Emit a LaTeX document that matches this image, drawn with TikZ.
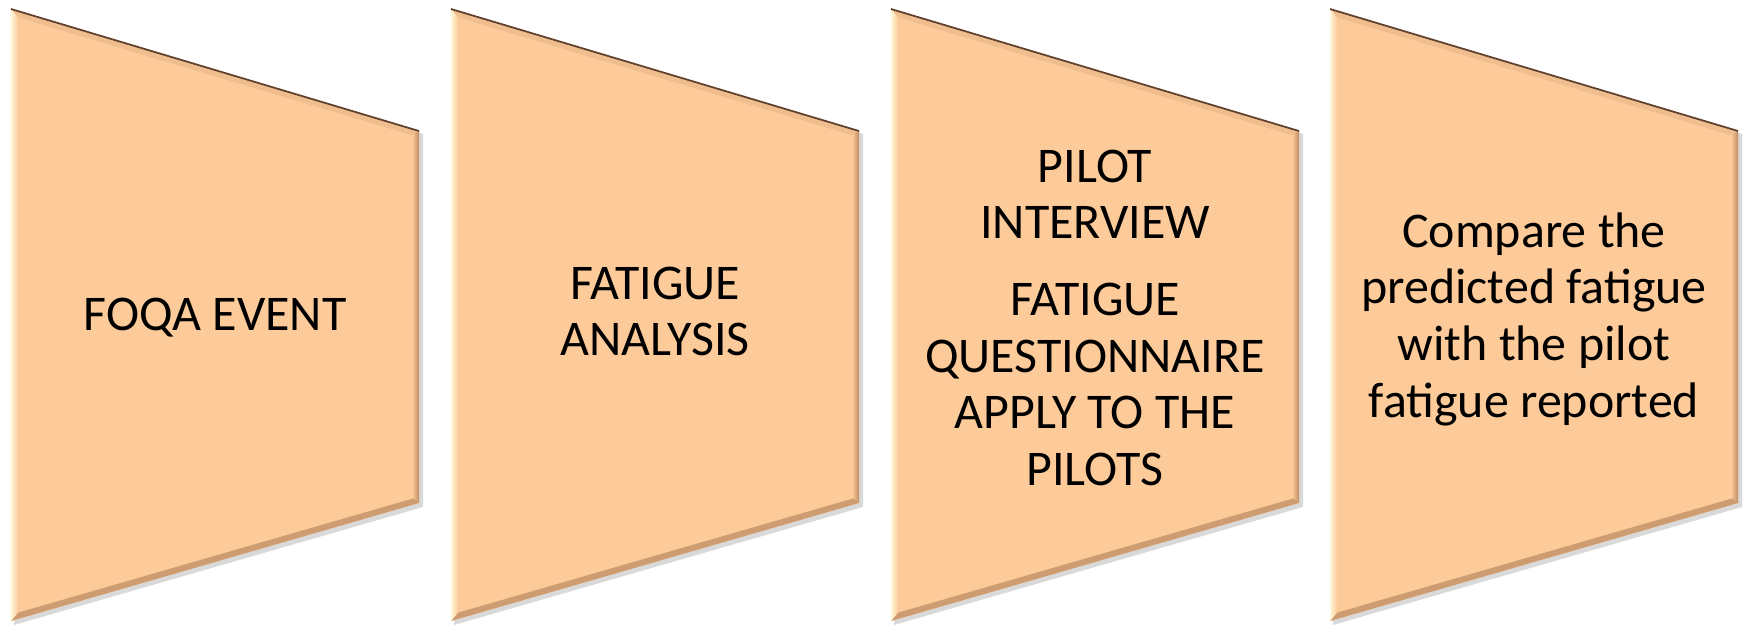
\documentclass[tikz,border=0pt]{standalone}
\usepackage{fontspec}
\setmainfont{Carlito}
\usepackage{tikz}
\usetikzlibrary{positioning}

\definecolor{peach}{RGB}{253,202,153}
\definecolor{peachlight}{RGB}{255,248,218}
\definecolor{peachdark}{RGB}{190,140,100}
\definecolor{peachedge}{RGB}{95,65,45}

\begin{document}
\begin{tikzpicture}[x=0.01cm, y=-0.01cm,
    steptext/.style={align=center, inner sep=0pt, font=\fontsize{14.2}{16.1}\selectfont}]
    \useasboundingbox (0,0) rectangle (1744,627);

    % the four trapezoids, with bevel
    \foreach \x in {11, 451, 891, 1330} {
        \fill[black, opacity=0.15] (\x+3,12) -- (\x+412,134) -- (\x+412,507) -- (\x+3,625) -- cycle;
        \fill[peach] (\x,9) -- (\x+408,131) -- (\x+408,503) -- (\x,621) -- cycle;
        \fill[peach!80!peachdark] (\x,9) -- (\x+408,131) -- (\x+402,135.5) -- (\x+7,17.4) -- cycle;
        \shade[left color=peach, right color=peachdark] (\x+408,131) -- (\x+408,503) -- (\x+401,498.5) -- (\x+401,135.5) -- cycle;
        \fill[peachdark!75!peach] (\x,621) -- (\x+408,503) -- (\x+402,498.5) -- (\x+7,612.7) -- cycle;
        \shade[left color=peachlight, right color=peach] (\x,9) -- (\x+7,17.4) -- (\x+7,612.7) -- (\x,621) -- cycle;
        \draw[peachedge, line width=0.5pt] (\x,9) -- (\x+408,131);
    }

    \node[steptext, anchor=base] (foqa) at (215,330) {FOQA EVENT};
    \node[steptext, anchor=north] (analysis) at (655,266) {FATIGUE\\ANALYSIS};
    \node[steptext, anchor=north] (interview) at (1095,149)
        {PILOT\\INTERVIEW\\[5.7pt]FATIGUE\\QUESTIONNAIRE\\APPLY TO THE\\PILOTS};
    \node[steptext, anchor=north] (compare) at (1534,212)
        {Compare the\\predicted fatigue\\with the pilot\\fatigue reported};
\end{tikzpicture}
\end{document}
